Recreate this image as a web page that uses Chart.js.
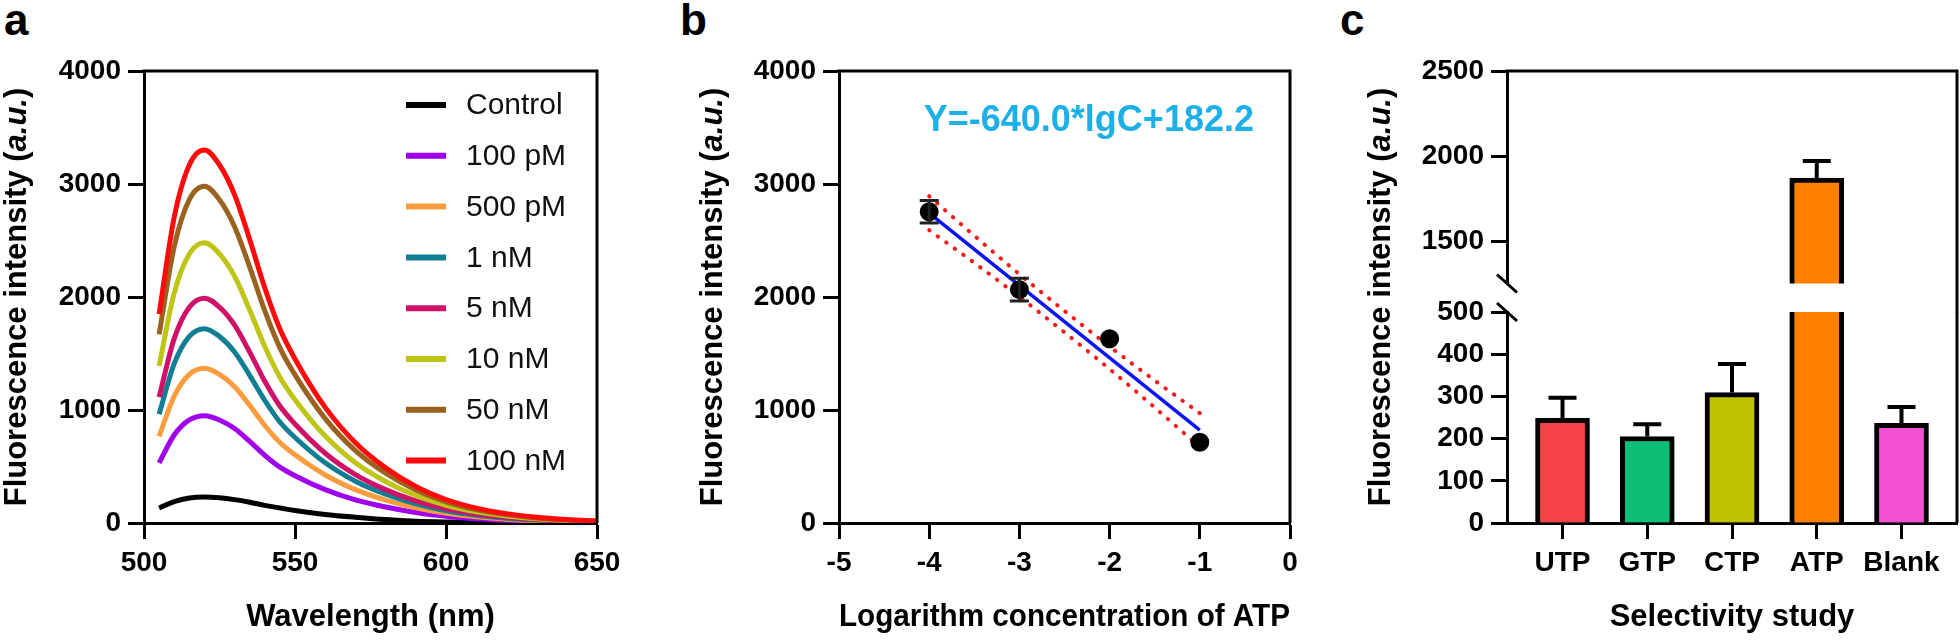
<!DOCTYPE html>
<html>
<head>
<meta charset="utf-8">
<script src="https://cdn.jsdelivr.net/npm/chart.js@4.4.1/dist/chart.umd.min.js"></script>
<style>
  html, body { margin: 0; padding: 0; background: #fff; }
  #fig { position: relative; width: 1960px; height: 643px; overflow: hidden; font-family: 'Liberation Sans', Arial, sans-serif; }
  canvas { position: absolute; top: 0; }
  .tag { position: absolute; top: -2px; font-weight: bold; font-size: 44px; line-height: 1; color: #000; }
</style>
</head>
<body>
<div id="fig">
  <div class="tag" style="left:4px">a</div>
  <div class="tag" style="left:680px">b</div>
  <div class="tag" style="left:1340px">c</div>
  <canvas id="spectraChart" width="650" height="643" style="left:0"></canvas>
  <canvas id="linearChart" width="650" height="643" style="left:660px"></canvas>
  <canvas id="selLowerChart" width="630" height="643" style="left:1330px"></canvas>
  <canvas id="selUpperChart" width="630" height="320" style="left:1330px"></canvas>
</div>
<script>
// panel a: emission spectra
const wavelengths = [505, 510, 515, 520, 525, 530, 535, 540, 545, 550, 560, 570, 580, 590, 600, 610, 620, 630, 640, 650];
const spectraLabels = ['Control', '100 pM', '500 pM', '1 nM', '5 nM', '10 nM', '50 nM', '100 nM'];
const control = [133, 189, 221, 230, 223, 207, 184, 156, 133, 110, 76, 51, 30, 16, 9, 5, 2, 1, 0, 0];
const atp100pM = [532, 779, 912, 950, 912, 836, 722, 599, 494, 418, 295, 204, 141, 93, 60, 38, 24, 14, 9, 5];
const atp500pM = [767, 1123, 1315, 1370, 1315, 1206, 1041, 863, 712, 603, 425, 295, 203, 134, 86, 55, 34, 21, 12, 7];
const atp1nM = [963, 1410, 1651, 1720, 1651, 1514, 1307, 1084, 894, 757, 533, 370, 255, 169, 108, 69, 43, 26, 15, 9];
const atp5nM = [1114, 1632, 1910, 1990, 1910, 1751, 1512, 1254, 1035, 876, 617, 428, 295, 195, 125, 80, 50, 30, 18, 10];
const atp10nM = [1389, 2034, 2381, 2480, 2381, 2182, 1885, 1562, 1290, 1091, 769, 533, 367, 243, 156, 99, 62, 37, 22, 12];
const atp50nM = [1669, 2444, 2861, 2980, 2861, 2622, 2265, 1877, 1550, 1311, 924, 641, 441, 292, 188, 119, 75, 45, 27, 15];
const atp100nM = [1848, 2706, 3168, 3300, 3168, 2904, 2508, 2079, 1716, 1452, 1023, 710, 488, 323, 208, 132, 83, 50, 30, 17];
const spectraXTicks = [500, 550, 600, 650];
const intensityTicks = [0, 1000, 2000, 3000, 4000];

// panel b: calibration
const logConc = [-4, -3, -2, -1];
const logIntensity = [2755, 2065, 1630, 715];
const logErr = [100, 100, 0, 0];
const fitX = [-4, -1];
const fitY = [2742.2, 822.2];
const bandX = [-4, -3.5, -3, -2.5, -2, -1.5, -1];
const bandUpper = [2892, 2542, 2202, 1877, 1562, 1262, 972];
const bandLower = [2592, 2302, 2002, 1687, 1362, 1022, 672];
const logTicks = [-5, -4, -3, -2, -1, 0];
const equation = 'Y=-640.0*lgC+182.2';

// panel c: selectivity
const selCategories = ['UTP', 'GTP', 'CTP', 'ATP', 'Blank'];
const selMeans = [248, 205, 309, 1870, 236];
const selErr = [49, 29, 68, 100, 39];
const selUpperTicks = [1500, 2000, 2500];
const selLowerTicks = [0, 100, 200, 300, 400, 500];

const FAMILY = "'Liberation Sans', Arial, sans-serif";
Chart.defaults.font.family = FAMILY;
Chart.defaults.color = '#000';

const tickFont = { size: 28, weight: 'bold' };
const titleFont = { size: 31, weight: 'bold' };
const titleParts = [['Fluorescence intensity (', 'bold'], ['a.u.', 'italic bold'], [')', 'bold']];

function axis(min, max, ticks, extra) {
  return Object.assign({
    type: 'linear', min: min, max: max, offset: false,
    afterBuildTicks: s => { s.ticks = ticks.map(v => ({ value: v })); },
    ticks: { font: tickFont, color: '#000', padding: 7, maxRotation: 0, autoSkip: false, callback: v => String(v) },
    grid: { offset: false, drawOnChartArea: false, tickLength: 16, tickWidth: 3, tickColor: '#000' },
    border: { color: '#000', width: 3 }
  }, extra);
}

const yTitlePlugin = {
  id: 'yTitle',
  afterDraw(chart, args, opts) {
    const ctx = chart.ctx, a = chart.chartArea;
    const cy = opts.y != null ? opts.y : (a.top + a.bottom) / 2;
    ctx.save();
    ctx.translate(opts.x, cy);
    ctx.rotate(-Math.PI / 2);
    ctx.fillStyle = '#000';
    ctx.textBaseline = 'middle';
    ctx.textAlign = 'left';
    let total = 0;
    titleParts.forEach(p => { ctx.font = p[1] + ' 31px ' + FAMILY; total += ctx.measureText(p[0]).width; });
    let x = -total / 2;
    titleParts.forEach(p => {
      ctx.font = p[1] + ' 31px ' + FAMILY;
      ctx.fillText(p[0], x, 0);
      x += ctx.measureText(p[0]).width;
    });
    ctx.restore();
  }
};

const framePlugin = {
  id: 'frame',
  afterDraw(chart, args, opts) {
    const ctx = chart.ctx, a = chart.chartArea;
    ctx.save();
    ctx.strokeStyle = '#000';
    ctx.lineWidth = 3;
    ctx.beginPath();
    if (opts.top) { ctx.moveTo(a.left - 1.5, a.top); ctx.lineTo(a.right + 1.5, a.top); }
    if (opts.right) { ctx.moveTo(a.right, a.top - (opts.top ? 1.5 : (opts.extendTop || 0))); ctx.lineTo(a.right, a.bottom + (opts.extendBottom || 0)); }
    ctx.stroke();
    if (opts.breakAt) {
      const y = opts.breakAt === 'bottom' ? a.bottom : a.top;
      ctx.beginPath();
      ctx.moveTo(a.left - 10, y - 9);
      ctx.lineTo(a.left + 10, y + 9);
      ctx.stroke();
    }
    ctx.restore();
  }
};

const errorBarPlugin = {
  id: 'errorBars',
  afterDatasetsDraw(chart, args, opts) {
    const ctx = chart.ctx, a = chart.chartArea, xs = chart.scales.x, ys = chart.scales.y;
    ctx.save();
    ctx.beginPath();
    ctx.rect(a.left, a.top, a.right - a.left, a.bottom - a.top);
    ctx.clip();
    ctx.strokeStyle = opts.color;
    ctx.lineWidth = opts.width;
    chart.data.datasets.forEach(ds => {
      if (!ds.errors) return;
      ds.data.forEach((pt, i) => {
        const err = ds.errors[i];
        if (!err) return;
        const px = xs.getPixelForValue(pt.x);
        const top = ys.getPixelForValue(pt.y + err);
        const bottom = ys.getPixelForValue(opts.both ? pt.y - err : pt.y);
        const h = opts.cap / 2;
        ctx.beginPath();
        ctx.moveTo(px, bottom); ctx.lineTo(px, top);
        ctx.moveTo(px - h, top); ctx.lineTo(px + h, top);
        if (opts.both) { ctx.moveTo(px - h, bottom); ctx.lineTo(px + h, bottom); }
        ctx.stroke();
      });
    });
    ctx.restore();
  }
};

const keyPlugin = {
  id: 'seriesKey',
  afterDraw(chart, args, opts) {
    const ctx = chart.ctx, a = chart.chartArea;
    ctx.save();
    ctx.font = '30px ' + FAMILY;
    ctx.textBaseline = 'middle';
    ctx.fillStyle = '#111';
    chart.data.datasets.forEach((ds, i) => {
      const y = a.top + opts.top + i * opts.gap;
      ctx.strokeStyle = ds.borderColor;
      ctx.lineWidth = 6;
      ctx.beginPath();
      ctx.moveTo(a.left + opts.lineStart, y);
      ctx.lineTo(a.left + opts.lineStart + opts.lineLen, y);
      ctx.stroke();
      ctx.fillText(ds.label, a.left + opts.textStart, y + 1);
    });
    ctx.restore();
  }
};

const textPlugin = {
  id: 'equation',
  afterDraw(chart, args, opts) {
    const ctx = chart.ctx;
    ctx.save();
    ctx.font = 'bold 36px ' + FAMILY;
    ctx.fillStyle = opts.color;
    ctx.textAlign = 'center';
    ctx.textBaseline = 'middle';
    ctx.fillText(opts.text, chart.scales.x.getPixelForValue(opts.x), chart.scales.y.getPixelForValue(opts.y));
    ctx.restore();
  }
};

const baseOpts = { responsive: false, animation: false, devicePixelRatio: 1, events: [] };

// ---- panel a ----
const spectraSeries = [control, atp100pM, atp500pM, atp1nM, atp5nM, atp10nM, atp50nM, atp100nM];
const spectraColors = ['#000000', '#a000ee', '#fb9d3e', '#117e93', '#cf1168', '#bec516', '#9a621f', '#ff0a0a'];

new Chart(document.getElementById('spectraChart'), {
  type: 'scatter',
  data: {
    datasets: spectraSeries.map((vals, i) => ({
      label: spectraLabels[i],
      data: vals.map((v, j) => ({ x: wavelengths[j], y: v })),
      showLine: true,
      borderColor: spectraColors[i],
      borderWidth: 5,
      pointRadius: 0,
      cubicInterpolationMode: 'monotone',
      order: spectraSeries.length - i
    }))
  },
  options: Object.assign({}, baseOpts, {
    layout: { padding: { top: 71, right: 53, left: 0, bottom: 0 } },
    plugins: {
      legend: { display: false }, tooltip: { enabled: false },
      frame: { top: true, right: true },
      yTitle: { x: 17 },
      seriesKey: { top: 34, gap: 50.8, lineStart: 262, lineLen: 40, textStart: 322 }
    },
    scales: {
      x: axis(500, 650, spectraXTicks, {
        afterFit: s => { s.height = 120; },
        title: { display: true, text: 'Wavelength (nm)', font: titleFont, color: '#000', padding: { top: 0, bottom: 7 } }
      }),
      y: axis(0, 4000, intensityTicks, { afterFit: s => { s.width = 144; } })
    }
  }),
  plugins: [framePlugin, yTitlePlugin, keyPlugin]
});

// ---- panel b ----
new Chart(document.getElementById('linearChart'), {
  type: 'scatter',
  data: {
    datasets: [
      {
        data: logConc.map((x, i) => ({ x: x, y: logIntensity[i] })),
        errors: logErr,
        pointRadius: 9.5, backgroundColor: '#000', borderColor: '#000', borderWidth: 0, order: 0
      },
      {
        data: fitX.map((x, i) => ({ x: x, y: fitY[i] })),
        showLine: true, borderColor: '#0a14f0', borderWidth: 3.5, pointRadius: 0, order: 1
      },
      {
        data: bandX.map((x, i) => ({ x: x, y: bandUpper[i] })),
        showLine: true, borderColor: '#f21a1a', borderWidth: 4, borderDash: [0.5, 10], borderCapStyle: 'round',
        pointRadius: 0, cubicInterpolationMode: 'monotone', order: 2
      },
      {
        data: bandX.map((x, i) => ({ x: x, y: bandLower[i] })),
        showLine: true, borderColor: '#f21a1a', borderWidth: 4, borderDash: [0.5, 10], borderCapStyle: 'round',
        pointRadius: 0, cubicInterpolationMode: 'monotone', order: 2
      }
    ]
  },
  options: Object.assign({}, baseOpts, {
    layout: { padding: { top: 71, right: 20, left: 0, bottom: 0 } },
    plugins: {
      legend: { display: false }, tooltip: { enabled: false },
      frame: { top: true, right: true },
      yTitle: { x: 53 },
      errorBars: { color: '#222', width: 3, cap: 19, both: true },
      equation: { text: equation, color: '#1cafe8', x: -2.23, y: 3560 }
    },
    scales: {
      x: axis(-5, 0, logTicks, {
        afterFit: s => { s.height = 120; },
        title: { display: true, text: 'Logarithm concentration of ATP', font: titleFont, color: '#000', padding: { top: 0, bottom: 7 } }
      }),
      y: axis(0, 4000, intensityTicks, { afterFit: s => { s.width = 179; } })
    }
  }),
  plugins: [framePlugin, yTitlePlugin, errorBarPlugin, textPlugin]
});

// ---- panel c (broken axis: two stacked charts) ----
const selColors = ['#f74346', '#0bbf76', '#bfc200', '#ff8000', '#f450d3'];
const catIndex = selCategories.map((c, i) => i + 1);

function selDataset() {
  return {
    data: selMeans.map((v, i) => ({ x: i + 1, y: v })),
    errors: selErr,
    backgroundColor: selColors,
    borderColor: '#000',
    borderWidth: 5,
    barThickness: 54,
    clip: 0
  };
}

const selX = {
  min: 0.345, max: 5.655,
  ticks: { callback: v => selCategories[v - 1] }
};

new Chart(document.getElementById('selLowerChart'), {
  type: 'bar',
  data: { datasets: [selDataset()] },
  options: Object.assign({}, baseOpts, {
    layout: { padding: { top: 312, right: 3, left: 0, bottom: 0 } },
    plugins: {
      legend: { display: false }, tooltip: { enabled: false },
      frame: { top: false, right: true, extendTop: 0, breakAt: 'top' },
      yTitle: { x: 51, y: 297 },
      errorBars: { color: '#000', width: 4, cap: 28, both: false }
    },
    scales: {
      x: axis(selX.min, selX.max, catIndex, {
        ticks: { font: tickFont, color: '#000', padding: 7, maxRotation: 0, autoSkip: false, callback: selX.ticks.callback },
        afterFit: s => { s.height = 120; },
        title: { display: true, text: 'Selectivity study', font: titleFont, color: '#000', padding: { top: 0, bottom: 7 } }
      }),
      y: axis(0, 500, selLowerTicks, { afterFit: s => { s.width = 177; } })
    }
  }),
  plugins: [framePlugin, yTitlePlugin, errorBarPlugin]
});

new Chart(document.getElementById('selUpperChart'), {
  type: 'bar',
  data: { datasets: [selDataset()] },
  options: Object.assign({}, baseOpts, {
    layout: { padding: { top: 71, right: 3, left: 0, bottom: 36.5 } },
    plugins: {
      legend: { display: false }, tooltip: { enabled: false },
      frame: { top: true, right: true, extendBottom: 29, breakAt: 'bottom' },
      errorBars: { color: '#000', width: 4, cap: 28, both: false }
    },
    scales: {
      x: axis(selX.min, selX.max, catIndex, { display: false }),
      y: axis(1250, 2500, selUpperTicks, { afterFit: s => { s.width = 177; } })
    }
  }),
  plugins: [framePlugin, errorBarPlugin]
});
</script>
</body>
</html>
